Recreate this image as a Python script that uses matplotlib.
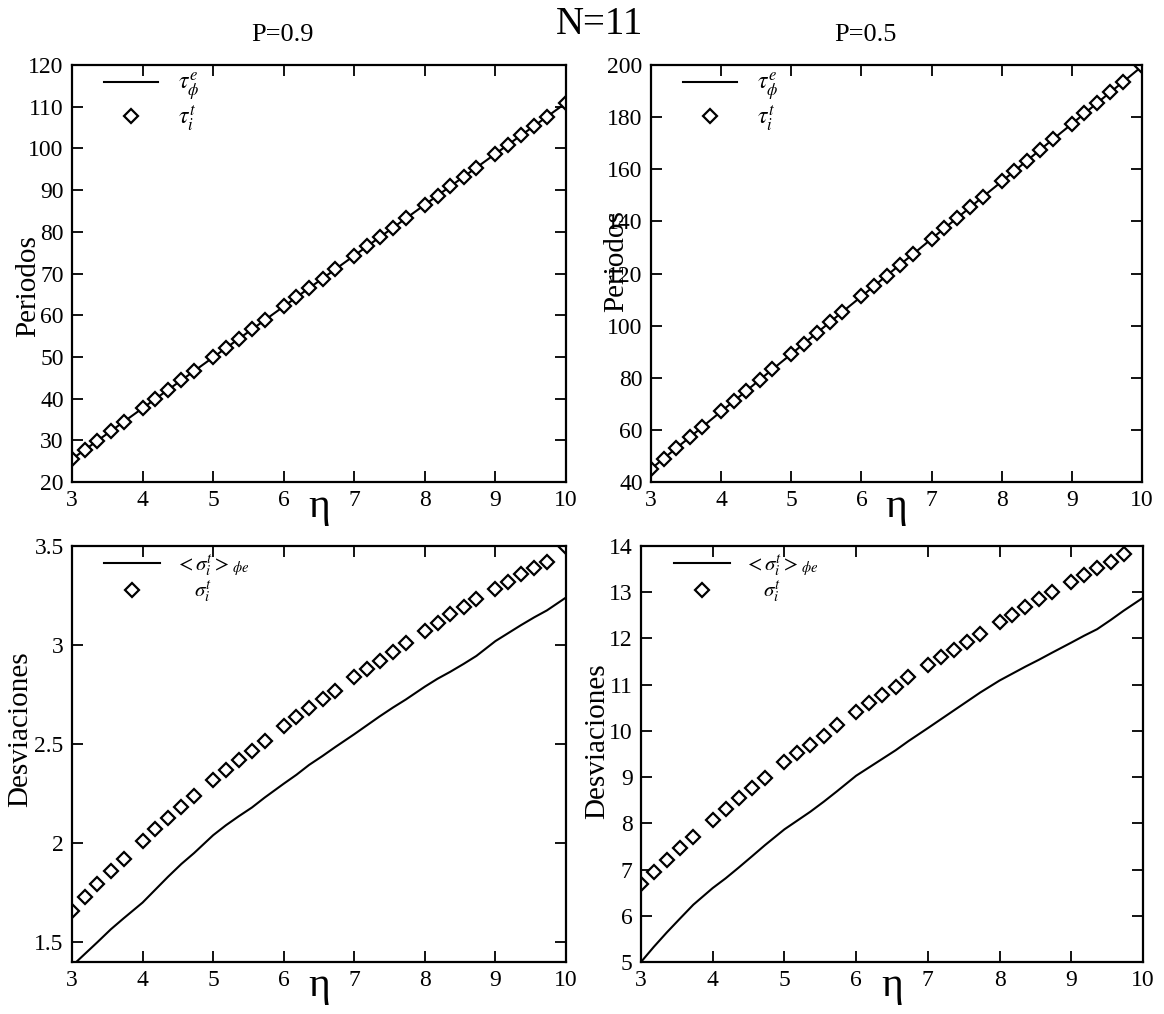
import numpy as np
import matplotlib.pyplot as plt

plt.rcParams['font.family'] = ['Liberation Serif', 'DejaVu Serif']
plt.rcParams['mathtext.fontset'] = 'stix'

# eta values where the periods and deviations were evaluated
eta = [3.0, 3.18, 3.36, 3.55, 3.73,
       4.0, 4.18, 4.36, 4.55, 4.73,
       5.0, 5.18, 5.36, 5.55, 5.73,
       6.0, 6.18, 6.36, 6.55, 6.73,
       7.0, 7.18, 7.36, 7.55, 7.73,
       8.0, 8.18, 8.36, 8.55, 8.73,
       9.0, 9.18, 9.36, 9.55, 9.73,
       10.0]

# periods, P=0.9
tau_t_09 = [25.5, 27.7, 29.9, 32.2, 34.4,
            37.7, 39.9, 42.1, 44.4, 46.6,
            49.9, 52.1, 54.3, 56.6, 58.8,
            62.1, 64.3, 66.5, 68.8, 71.0,
            74.3, 76.5, 78.7, 81.0, 83.2,
            86.5, 88.7, 90.9, 93.2, 95.4,
            98.7, 100.9, 103.1, 105.4, 107.6,
            110.9]
tau_e_09 = tau_t_09

# periods, P=0.5
tau_t_05 = [45.0, 49.0, 53.0, 57.1, 61.1,
            67.1, 71.0, 75.0, 79.2, 83.2,
            89.1, 93.1, 97.1, 101.3, 105.3,
            111.2, 115.2, 119.2, 123.4, 127.3,
            133.3, 137.3, 141.2, 145.4, 149.4,
            155.3, 159.3, 163.3, 167.5, 171.5,
            177.4, 181.4, 185.4, 189.6, 193.5,
            199.5]
tau_e_05 = tau_t_05

# deviations, P=0.9
sig_t_09 = [1.657, 1.729, 1.796, 1.859, 1.919,
            2.012, 2.071, 2.128, 2.180, 2.237,
            2.318, 2.369, 2.419, 2.466, 2.517,
            2.592, 2.638, 2.683, 2.726, 2.769,
            2.837, 2.879, 2.921, 2.963, 3.009,
            3.072, 3.113, 3.155, 3.190, 3.231,
            3.283, 3.320, 3.360, 3.390, 3.420,
            3.495]
sig_e_09 = [1.38, 1.44, 1.50, 1.565, 1.62,
            1.70, 1.765, 1.83, 1.895, 1.95,
            2.04, 2.09, 2.135, 2.18, 2.23,
            2.30, 2.345, 2.395, 2.44, 2.485,
            2.55, 2.595, 2.64, 2.685, 2.725,
            2.79, 2.83, 2.865, 2.905, 2.945,
            3.02, 3.06, 3.10, 3.14, 3.175,
            3.24]

# deviations, P=0.5 (last point falls above the axis)
sig_t_05 = [6.68, 6.95, 7.20, 7.46, 7.71,
            8.07, 8.32, 8.54, 8.76, 8.97,
            9.32, 9.52, 9.69, 9.89, 10.12,
            10.41, 10.60, 10.77, 10.95, 11.16,
            11.42, 11.60, 11.76, 11.93, 12.10,
            12.36, 12.51, 12.69, 12.85, 13.01,
            13.23, 13.37, 13.52, 13.66, 13.83,
            np.nan]
sig_e_05 = [5.0, 5.33, 5.64, 5.95, 6.24,
            6.60, 6.81, 7.04, 7.29, 7.53,
            7.87, 8.06, 8.25, 8.47, 8.69,
            9.03, 9.21, 9.39, 9.58, 9.78,
            10.06, 10.25, 10.44, 10.64, 10.83,
            11.09, 11.24, 11.39, 11.54, 11.69,
            11.91, 12.06, 12.20, 12.40, 12.60,
            12.88]

fig = plt.figure(figsize=(11.64, 10.14), dpi=100)
W, H = 1164, 1014


def make_ax(x0, x1, y0, y1):
    return fig.add_axes([x0 / W, 1 - y1 / H, (x1 - x0) / W, (y1 - y0) / H])


ax_tl = make_ax(72, 566, 65, 482)
ax_tr = make_ax(651, 1142, 65, 482)
ax_bl = make_ax(72, 566, 546, 962)
ax_br = make_ax(641, 1143, 546, 962)

mk = dict(marker='D', ms=7, mfc='white', mec='black', mew=1.6)


def style(ax, ylim, yticks):
    ax.set_xlim(3, 10)
    ax.set_ylim(*ylim)
    ax.set_xticks(range(3, 11))
    ax.set_yticks(yticks)
    ax.tick_params(direction='in', length=8, width=1.3, top=True, right=True,
                   labelsize=17, pad=6)
    for s in ax.spines.values():
        s.set_linewidth(1.6)
    ax.set_xlabel('\u03b7', fontsize=30)
    ax.xaxis.set_label_coords(0.5, -0.012)


# top row: periods
ax_tl.plot(eta, tau_e_09, color='black', lw=1.5, label=r'$\tau_\phi^e$')
ax_tl.plot(eta, tau_t_09, ls='none', label=r'$\tau_i^t$', **mk)
style(ax_tl, (20, 120), range(20, 121, 10))

ax_tr.plot(eta, tau_e_05, color='black', lw=1.5, label=r'$\tau_\phi^e$')
ax_tr.plot(eta, tau_t_05, ls='none', label=r'$\tau_i^t$', **mk)
style(ax_tr, (40, 200), range(40, 201, 20))

# bottom row: deviations
ax_bl.plot(eta, sig_e_09, color='black', lw=1.5, label=r'$<\sigma_i^t>_{\phi e}$')
ax_bl.plot(eta, sig_t_09, ls='none', label=r'$\quad\;\sigma_i^t$', **mk)
style(ax_bl, (1.4, 3.5), [1.5, 2, 2.5, 3, 3.5])
ax_bl.set_yticklabels(['1.5', '2', '2.5', '3', '3.5'])

ax_br.plot(eta, sig_e_05, color='black', lw=1.5, label=r'$<\sigma_i^t>_{\phi e}$')
ax_br.plot(eta, sig_t_05, ls='none', label=r'$\quad\;\sigma_i^t$', **mk)
style(ax_br, (5, 14), range(5, 15))

for ax in (ax_tl, ax_tr):
    ax.legend(loc='upper left', bbox_to_anchor=(0.065, 0.985), frameon=False,
              fontsize=17, handlelength=2.3, handletextpad=0.85,
              labelspacing=0.0, borderpad=0.0, borderaxespad=0.0)
for ax in (ax_bl, ax_br):
    ax.legend(loc='upper left', bbox_to_anchor=(0.065, 0.985), frameon=False,
              fontsize=15, handlelength=2.7, handletextpad=0.7,
              labelspacing=0.0, borderpad=0.0, borderaxespad=0.0)

ax_tl.set_ylabel('Periodos', fontsize=21)
ax_tl.yaxis.set_label_coords(-0.062, 0.47)
ax_tr.set_ylabel('Periodos', fontsize=21)
ax_tr.yaxis.set_label_coords(-0.045, 0.53)
ax_bl.set_ylabel('Desviaciones', fontsize=21)
ax_bl.yaxis.set_label_coords(-0.078, 0.56)
ax_br.set_ylabel('Desviaciones', fontsize=21)
ax_br.yaxis.set_label_coords(-0.062, 0.53)

fig.text(600 / W, 1 - 25 / H, 'N=11', fontsize=28, ha='center', va='center')
fig.text(282 / W, 1 - 35 / H, 'P=0.9', fontsize=19, ha='center', va='center')
fig.text(865 / W, 1 - 35 / H, 'P=0.5', fontsize=19, ha='center', va='center')

fig.savefig('out.png', dpi=100)
